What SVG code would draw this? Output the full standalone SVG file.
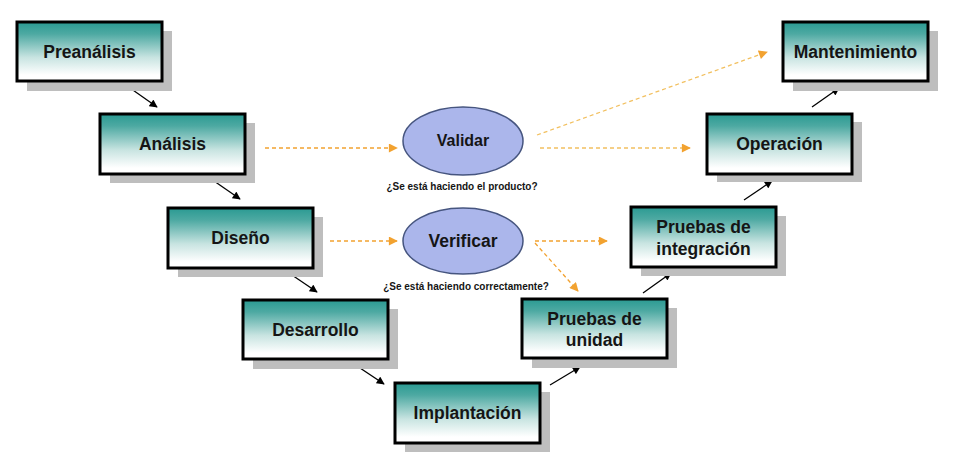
<svg xmlns="http://www.w3.org/2000/svg" width="960" height="461" viewBox="0 0 960 461">
<defs>
<linearGradient id="g" x1="0" y1="0" x2="0" y2="1">
<stop offset="0" stop-color="#2A9A92"/>
<stop offset="0.2" stop-color="#4DA9A2"/>
<stop offset="0.6" stop-color="#C8E4E1"/>
<stop offset="0.9" stop-color="#FFFFFF"/>
</linearGradient>
<marker id="ab" viewBox="0 0 10 10" refX="9" refY="5" markerWidth="9" markerHeight="8" orient="auto" markerUnits="userSpaceOnUse">
<path d="M0,0 L10,5 L0,10 z" fill="#000"/>
</marker>
<marker id="ao" viewBox="0 0 10 10" refX="9" refY="5" markerWidth="10" markerHeight="9" orient="auto" markerUnits="userSpaceOnUse">
<path d="M0,0 L10,5 L0,10 z" fill="#F2A230"/>
</marker>
</defs>
<style>
.sh{fill:#BEBEBE}
.bx{fill:url(#g);stroke:#000;stroke-width:3}
.t{font-family:"Liberation Sans",Arial,sans-serif;font-weight:bold;font-size:17.5px;fill:#151515;text-anchor:middle}
.q{font-family:"Liberation Sans",Arial,sans-serif;font-weight:bold;font-size:10px;fill:#151515;text-anchor:middle}
.el{fill:#ABB6EB;stroke:#46557F;stroke-width:1.5}
.k{stroke:#000;stroke-width:1.3;fill:none;marker-end:url(#ab)}
.o{stroke:#F2A230;stroke-width:1.3;stroke-dasharray:4,3;fill:none;marker-end:url(#ao)}
.o2{stroke:#F2C060;stroke-width:1.3;stroke-dasharray:4,3;fill:none;marker-end:url(#ao)}
</style>
<rect width="960" height="461" fill="#fff"/>
<g id="connectors">
<line class="k" x1="130" y1="88" x2="157" y2="107"/>
<line class="k" x1="214" y1="181" x2="240" y2="199"/>
<line class="k" x1="289" y1="273" x2="317" y2="292"/>
<line class="k" x1="357" y1="366" x2="384" y2="384"/>
<line class="k" x1="550" y1="385" x2="580" y2="367"/>
<line class="k" x1="643" y1="293" x2="671" y2="273"/>
<line class="k" x1="744" y1="200" x2="772" y2="181"/>
<line class="k" x1="812" y1="107" x2="839" y2="88"/>
<line class="o" x1="265" y1="148" x2="397" y2="148"/>
<line class="o2" x1="540" y1="148" x2="690" y2="148"/>
<line class="o2" x1="537" y1="135" x2="767" y2="52"/>
<line class="o" x1="330" y1="241" x2="397" y2="241"/>
<line class="o" x1="535" y1="241" x2="607" y2="241"/>
<line class="o" x1="535" y1="243" x2="578" y2="291"/>
</g>
<g id="preanalisis"><rect class="sh" x="27" y="31" width="145" height="60"/><rect class="bx" x="17" y="22" width="145" height="59"/><text class="t" x="89.5" y="58">Preanálisis</text></g>
<g id="analisis"><rect class="sh" x="110" y="123" width="145" height="60"/><rect class="bx" x="100" y="114" width="145" height="60"/><text class="t" x="172.5" y="150">Análisis</text></g>
<g id="diseno"><rect class="sh" x="178" y="217" width="145" height="60"/><rect class="bx" x="168" y="208" width="145" height="60"/><text class="t" x="240.5" y="244">Diseño</text></g>
<g id="desarrollo"><rect class="sh" x="253" y="309" width="145" height="60"/><rect class="bx" x="243" y="300" width="145" height="59"/><text class="t" x="315.5" y="336">Desarrollo</text></g>
<g id="implantacion"><rect class="sh" x="405" y="392" width="145" height="60"/><rect class="bx" x="395" y="383" width="145" height="60"/><text class="t" x="467.5" y="419">Implantación</text></g>
<g id="pruebas-unidad"><rect class="sh" x="532" y="308" width="145" height="60"/><rect class="bx" x="522" y="299" width="145" height="59"/><text class="t" x="594.5" y="325">Pruebas de</text><text class="t" x="594.5" y="346">unidad</text></g>
<g id="pruebas-integracion"><rect class="sh" x="641" y="216" width="145" height="60"/><rect class="bx" x="631" y="207" width="145" height="60"/><text class="t" x="703.5" y="233">Pruebas de</text><text class="t" x="703.5" y="255">integración</text></g>
<g id="operacion"><rect class="sh" x="717" y="122" width="145" height="60"/><rect class="bx" x="707" y="114" width="145" height="60"/><text class="t" x="779.5" y="150">Operación</text></g>
<g id="mantenimiento"><rect class="sh" x="793" y="31" width="145" height="60"/><rect class="bx" x="783" y="22" width="145" height="59"/><text class="t" x="855.5" y="58">Mantenimiento</text></g>
<g id="validar"><ellipse class="el" cx="463" cy="141" rx="60" ry="34"/><text class="t" x="463" y="146" style="font-size:16px">Validar</text><text class="q" x="462" y="190">¿Se está haciendo el producto?</text></g>
<g id="verificar"><ellipse class="el" cx="463" cy="241" rx="60" ry="33"/><text class="t" x="463" y="247">Verificar</text><text class="q" x="466" y="290">¿Se está haciendo correctamente?</text></g>
</svg>
